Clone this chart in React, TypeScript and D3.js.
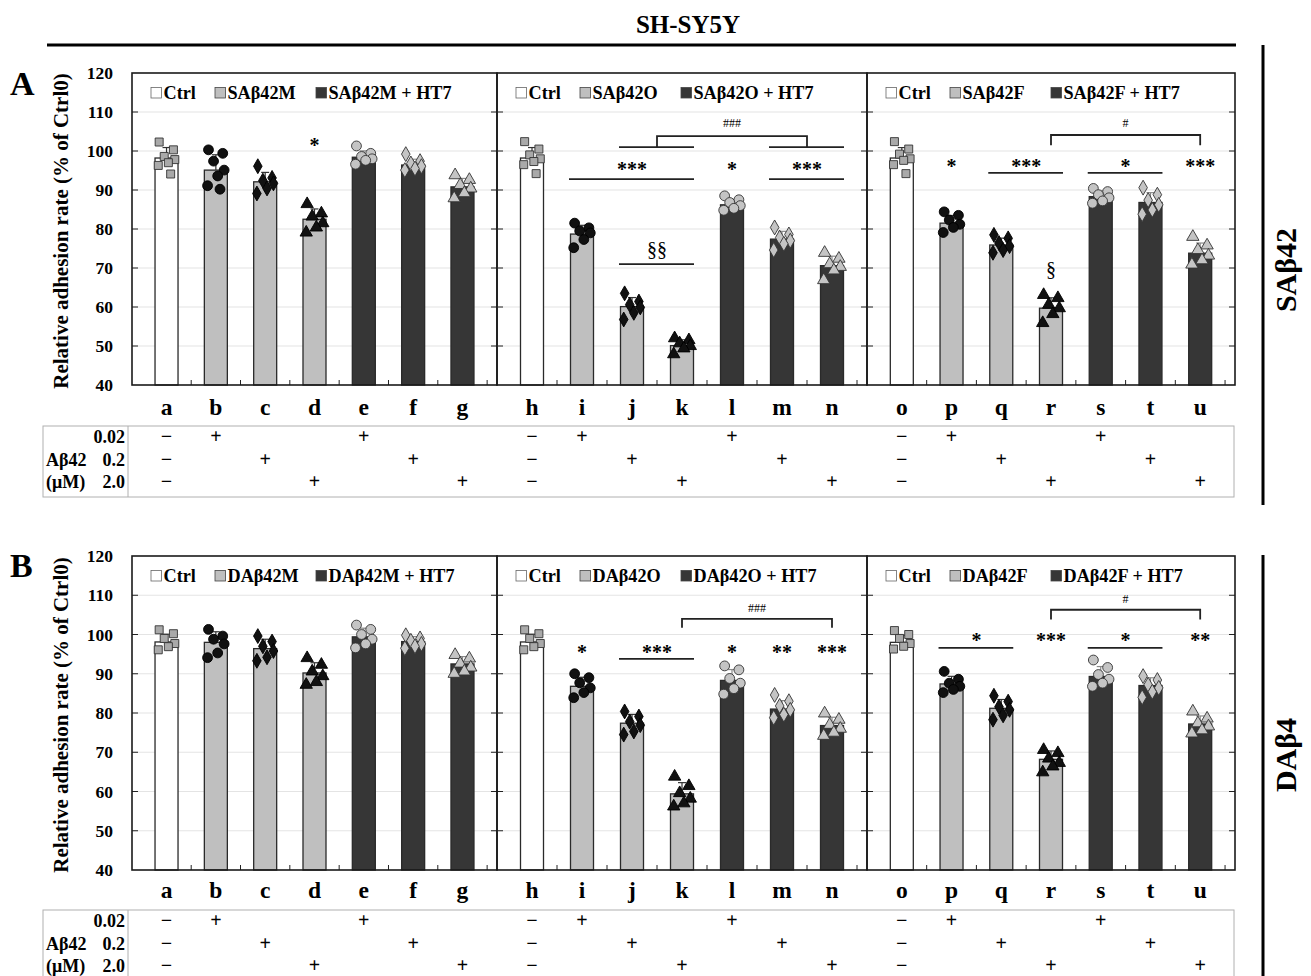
import React from "react";
import * as d3 from "d3";

const FONT = '"Liberation Serif", "Times New Roman", serif';

// categories, grouped by panel
const panelLetters = [
  ["a", "b", "c", "d", "e", "f", "g"],
  ["h", "i", "j", "k", "l", "m", "n"],
  ["o", "p", "q", "r", "s", "t", "u"],
];
const groupKind = ["ctrl", "drug", "drug", "drug", "ht7", "ht7", "ht7"];
const markerShape = ["square", "circle", "diamond", "triangle", "circle", "diamond", "triangle"];
const doseRow = [-1, 0, 1, 2, 0, 1, 2];
const doseLabels = ["0.02", "0.2", "2.0"];
const yTicks = [40, 50, 60, 70, 80, 90, 100, 110, 120];

// bar heights (mean, % of Ctrl0)
const meansSA = [
  [98.2, 95.1, 92.1, 82.5, 98.4, 96.4, 90.8],
  [98.2, 78.7, 60.1, 50.1, 86.2, 77.4, 70.6],
  [98.2, 81.5, 75.9, 59.7, 88.3, 86.8, 73.8],
];
const meansDA = [
  [98.1, 98.0, 96.4, 90.2, 99.4, 98.2, 92.5],
  [98.1, 86.8, 77.4, 59.4, 88.3, 81.0, 76.8],
  [98.0, 87.4, 81.2, 68.2, 89.3, 87.0, 77.2],
];

// individual measurements
const pointsSA = [
  [
    [102.3, 100.3, 98.6, 97.8, 97.0, 96.3, 94.1],
    [100.3, 99.4, 97.4, 95.1, 93.6, 91.1, 90.2],
    [96.1, 93.1, 92.4, 91.7, 90.4, 89.1],
    [86.4, 84.0, 83.2, 81.5, 80.4, 79.1],
    [101.3, 99.4, 98.6, 98.0, 97.6, 96.6],
    [99.2, 97.4, 96.8, 96.1, 95.5, 95.1],
    [93.8, 92.6, 91.3, 90.4, 89.2, 87.9],
  ],
  [
    [102.4, 100.5, 99.0, 98.0, 97.3, 96.5, 94.2],
    [81.5, 80.3, 79.5, 79.0, 77.3, 75.2],
    [63.5, 61.4, 60.6, 59.9, 58.5, 56.8],
    [52.0, 51.5, 50.7, 50.0, 49.4, 47.9],
    [88.5, 87.5, 86.8, 86.0, 85.3, 84.8],
    [80.4, 78.6, 77.8, 77.0, 76.2, 74.6],
    [73.9, 72.4, 71.0, 70.3, 69.4, 66.9],
  ],
  [
    [102.4, 100.5, 99.2, 98.0, 97.6, 96.5, 94.2],
    [84.4, 83.5, 82.3, 81.2, 80.4, 79.1],
    [78.5, 77.6, 76.4, 75.6, 74.6, 73.9],
    [63.1, 62.3, 60.6, 59.7, 58.2, 55.9],
    [90.4, 89.6, 88.8, 88.0, 87.2, 86.6],
    [90.6, 88.8, 87.4, 86.2, 84.9, 83.8],
    [78.0, 75.8, 74.6, 73.2, 72.0, 70.9],
  ],
];
const pointsDA = [
  [
    [101.2, 100.2, 99.0, 97.7, 96.9, 96.1],
    [101.3, 99.6, 98.8, 97.6, 95.3, 94.1],
    [99.6, 98.2, 97.0, 95.8, 94.2, 93.3],
    [94.0, 92.3, 90.6, 89.4, 87.9, 87.2],
    [102.4, 101.3, 100.0, 98.8, 97.6, 96.6],
    [99.8, 99.0, 98.4, 97.6, 97.0, 96.5],
    [94.8, 93.9, 92.6, 91.6, 90.6, 90.0],
  ],
  [
    [101.2, 100.2, 99.0, 97.7, 96.9, 96.1],
    [90.0, 89.0, 87.7, 86.4, 85.2, 83.9],
    [80.4, 79.1, 77.8, 76.9, 75.3, 74.5],
    [63.8, 61.4, 59.6, 58.2, 57.0, 56.2],
    [92.0, 91.0, 88.8, 87.6, 86.2, 84.8],
    [84.6, 83.0, 81.8, 80.8, 79.6, 78.8],
    [79.9, 78.3, 77.0, 76.0, 75.0, 74.2],
  ],
  [
    [101.0, 100.0, 99.0, 97.7, 97.0, 96.3],
    [90.6, 88.6, 87.6, 86.8, 86.0, 85.2],
    [84.4, 82.9, 81.6, 80.8, 79.4, 78.3],
    [70.6, 69.8, 68.4, 67.3, 66.4, 64.9],
    [93.5, 91.6, 89.8, 88.6, 87.6, 86.8],
    [89.4, 88.4, 87.2, 86.4, 85.4, 84.0],
    [80.4, 78.6, 77.4, 76.6, 75.6, 74.8],
  ],
];

const legendSA = [
  ["Ctrl", "SAβ42M", "SAβ42M + HT7"],
  ["Ctrl", "SAβ42O", "SAβ42O + HT7"],
  ["Ctrl", "SAβ42F", "SAβ42F + HT7"],
];
const legendDA = [
  ["Ctrl", "DAβ42M", "DAβ42M + HT7"],
  ["Ctrl", "DAβ42O", "DAβ42O + HT7"],
  ["Ctrl", "DAβ42F", "DAβ42F + HT7"],
];

// significance marks: v is in data units
type Ann =
  | { t: "text"; at: string[]; v: number; s: string }
  | { t: "line"; a: string; b: string; v: number }
  | { t: "bracket"; a: string[]; b: string[]; v: number; low: number };

const annSA: Ann[][] = [
  [{ t: "text", at: ["d"], v: 102.3, s: "*" }],
  [
    { t: "text", at: ["l"], v: 107.2, s: "###" },
    { t: "bracket", a: ["j", "k"], b: ["m", "n"], v: 103.8, low: 101.0 },
    { t: "line", a: "j", b: "k", v: 101.0 },
    { t: "line", a: "m", b: "n", v: 101.0 },
    { t: "text", at: ["i", "k"], v: 95.9, s: "***" },
    { t: "line", a: "i", b: "k", v: 92.8 },
    { t: "text", at: ["l"], v: 95.9, s: "*" },
    { t: "text", at: ["m", "n"], v: 95.9, s: "***" },
    { t: "line", a: "m", b: "n", v: 92.8 },
    { t: "text", at: ["j", "k"], v: 74.6, s: "§§" },
    { t: "line", a: "j", b: "k", v: 71.0 },
  ],
  [
    { t: "text", at: ["r", "u"], v: 107.2, s: "#" },
    { t: "bracket", a: ["r"], b: ["u"], v: 104.1, low: 101.5 },
    { t: "text", at: ["p"], v: 96.9, s: "*" },
    { t: "text", at: ["q", "r"], v: 96.9, s: "***" },
    { t: "line", a: "q", b: "r", v: 94.4 },
    { t: "text", at: ["s", "t"], v: 96.9, s: "*" },
    { t: "line", a: "s", b: "t", v: 94.4 },
    { t: "text", at: ["u"], v: 96.9, s: "***" },
    { t: "text", at: ["r"], v: 69.5, s: "§" },
  ],
];
const annDA: Ann[][] = [
  [],
  [
    { t: "text", at: ["k", "n"], v: 106.8, s: "###" },
    { t: "bracket", a: ["k"], b: ["n"], v: 104.0, low: 101.7 },
    { t: "text", at: ["i"], v: 96.1, s: "*" },
    { t: "text", at: ["j", "k"], v: 96.1, s: "***" },
    { t: "line", a: "j", b: "k", v: 93.8 },
    { t: "text", at: ["l"], v: 96.1, s: "*" },
    { t: "text", at: ["m"], v: 96.1, s: "**" },
    { t: "text", at: ["n"], v: 96.1, s: "***" },
  ],
  [
    { t: "text", at: ["r", "u"], v: 109.1, s: "#" },
    { t: "bracket", a: ["r"], b: ["u"], v: 106.3, low: 103.8 },
    { t: "text", at: ["p", "q"], v: 99.2, s: "*" },
    { t: "line", a: "p", b: "q", v: 96.6 },
    { t: "text", at: ["r"], v: 99.2, s: "***" },
    { t: "text", at: ["s", "t"], v: 99.2, s: "*" },
    { t: "line", a: "s", b: "t", v: 96.6 },
    { t: "text", at: ["u"], v: 99.2, s: "**" },
  ],
];

const panelEdges = [132, 497, 867, 1235];
const barW = 23;
const jitter = [-0.32, 0.3, -0.1, 0.36, 0.08, -0.36, 0.18];
const barFill: Record<string, string> = { ctrl: "#ffffff", drug: "#bfbfbf", ht7: "#363636" };
const symbolType: Record<string, d3.SymbolType> = {
  square: d3.symbolSquare,
  circle: d3.symbolCircle,
  diamond: d3.symbolDiamond,
  triangle: d3.symbolTriangle,
};
const symbolSize: Record<string, number> = { square: 64, circle: 76, diamond: 64, triangle: 66 };

function textStyle(s: string) {
  if (s.startsWith("#")) return { size: 12, weight: "normal", dy: 4 };
  if (s.startsWith("§")) return { size: 20, weight: "normal", dy: 6 };
  return { size: 20, weight: "bold", dy: 9.5 };
}

function Section(props: {
  label: string;
  top: number;
  bottom: number;
  letterY: number;
  tableTop: number;
  labelY: number;
  means: number[][];
  points: number[][][];
  legends: string[][];
  anns: Ann[][];
  side: string;
  sideY: number;
  sideLine: [number, number];
}) {
  const { top, bottom } = props;
  const y = d3.scaleLinear().domain([40, 120]).range([bottom, top]);
  const rowY = (r: number) => props.tableTop + 17 + r * 22.5;

  return (
    <g>
      <text x={10} y={props.labelY} fontSize={34} fontWeight="bold">{props.label}</text>
      {/* y axis */}
      {yTicks.map((t) => (
        <text key={t} x={113} y={y(t) + 6} textAnchor="end" fontSize={17.5} fontWeight="bold">{t}</text>
      ))}
      <text
        transform={`translate(68,${(top + bottom) / 2 + 2}) rotate(-90)`}
        textAnchor="middle"
        fontSize={21}
        fontWeight="bold"
      >
        Relative adhesion rate (% of Ctrl0)
      </text>

      {panelLetters.map((letters, p) => {
        const x0 = panelEdges[p];
        const x1 = panelEdges[p + 1];
        const x = d3.scalePoint<string>().domain(letters).range([x0, x1]).padding(0.7);
        const step = x.step();
        const cx = (ks: string[]) => d3.mean(ks, (k) => x(k)!)!;
        return (
          <g key={p}>
            {/* gridlines */}
            {yTicks.slice(1, -1).map((t) => (
              <line key={t} x1={x0} x2={x1} y1={y(t)} y2={y(t)} stroke="#e4e4e4" strokeWidth={1.2} />
            ))}
            {/* y ticks inside */}
            {yTicks.slice(1, -1).map((t) => (
              <g key={"t" + t} stroke="#222" strokeWidth={1}>
                <line x1={x0} x2={x0 + 6} y1={y(t)} y2={y(t)} />
                <line x1={x1 - 6} x2={x1} y1={y(t)} y2={y(t)} />
              </g>
            ))}
            {/* bars */}
            {letters.map((k, i) => {
              const m = props.means[p][i];
              return (
                <rect
                  key={k}
                  x={x(k)! - barW / 2}
                  y={y(m)}
                  width={barW}
                  height={y(40) - y(m)}
                  fill={barFill[groupKind[i]]}
                  stroke="#2a2a2a"
                  strokeWidth={1.3}
                />
              );
            })}
            {/* error bars */}
            {letters.map((k, i) => {
              const m = props.means[p][i];
              const sd = d3.deviation(props.points[p][i]) ?? 0;
              const c = groupKind[i] === "ht7" ? "#888" : "#333";
              return (
                <g key={"e" + k} stroke={c} strokeWidth={1.2}>
                  <line x1={x(k)!} x2={x(k)!} y1={y(m)} y2={y(m + sd)} />
                  <line x1={x(k)! - 4} x2={x(k)! + 4} y1={y(m + sd)} y2={y(m + sd)} />
                </g>
              );
            })}
            {/* points */}
            {letters.map((k, i) => {
              const kind = groupKind[i];
              const fill = kind === "drug" ? "#111" : kind === "ctrl" ? "#a9a9a9" : "#c4c4c4";
              const stroke = kind === "drug" ? "#000" : "#333";
              const path = d3.symbol(symbolType[markerShape[i]], symbolSize[markerShape[i]])()!;
              return (
                <g key={"p" + k}>
                  {props.points[p][i].map((v, j) => (
                    <path
                      key={j}
                      d={path}
                      transform={`translate(${x(k)! + jitter[j % jitter.length] * barW},${y(v)})`}
                      fill={fill}
                      stroke={stroke}
                      strokeWidth={0.9}
                    />
                  ))}
                </g>
              );
            })}
            {/* bottom category ticks */}
            {letters.map((k) => (
              <line key={"bt" + k} x1={x(k)! + step / 2} x2={x(k)! + step / 2} y1={y(40)} y2={y(40) - 5} stroke="#222" strokeWidth={1} />
            ))}
            {/* frame */}
            <rect x={x0} y={top} width={x1 - x0} height={bottom - top} fill="none" stroke="#1a1a1a" strokeWidth={1.6} />
            {/* legend */}
            {props.legends[p].map((name, i) => {
              const lx = x0 + [19, 83, 184][i];
              const ly = top + 26;
              const kind = ["ctrl", "drug", "ht7"][i];
              return (
                <g key={"l" + i}>
                  <rect x={lx} y={ly - 11.5} width={10.5} height={10.5} fill={barFill[kind]} stroke={kind === "ctrl" ? "#666" : "#444"} strokeWidth={0.8} />
                  <text x={lx + 12.5} y={ly} fontSize={18.2} fontWeight="bold">{name}</text>
                </g>
              );
            })}
            {/* significance marks */}
            {props.anns[p].map((a, i) => {
              if (a.t === "text") {
                const st = textStyle(a.s);
                return (
                  <text key={"a" + i} x={cx(a.at)} y={y(a.v) + st.dy} textAnchor="middle" fontSize={st.size} fontWeight={st.weight}>
                    {a.s}
                  </text>
                );
              }
              if (a.t === "line") {
                return (
                  <line key={"a" + i} x1={x(a.a)! - 13} x2={x(a.b)! + 12} y1={y(a.v)} y2={y(a.v)} stroke="#222" strokeWidth={1.8} />
                );
              }
              const xa = cx(a.a);
              const xb = cx(a.b);
              return (
                <path
                  key={"a" + i}
                  d={`M${xa},${y(a.low)}V${y(a.v)}H${xb}V${y(a.low)}`}
                  fill="none"
                  stroke="#222"
                  strokeWidth={1.8}
                />
              );
            })}
            {/* category letters */}
            {letters.map((k) => (
              <text key={"c" + k} x={x(k)!} y={props.letterY} textAnchor="middle" fontSize={23.5} fontWeight="bold">{k}</text>
            ))}
            {/* dose table marks */}
            {letters.map((k, i) =>
              doseLabels.map((_, r) => {
                const mark = doseRow[i] === -1 ? "−" : doseRow[i] === r ? "+" : "";
                return mark ? (
                  <text key={"d" + k + r} x={x(k)!} y={rowY(r)} textAnchor="middle" fontSize={20} fontWeight="bold">
                    {mark}
                  </text>
                ) : null;
              })
            )}
          </g>
        );
      })}

      {/* dose table frame and labels */}
      <rect x={43} y={props.tableTop} width={1191} height={71} fill="none" stroke="#b0b0b0" strokeWidth={1} />
      <line x1={128} x2={128} y1={props.tableTop} y2={props.tableTop + 71} stroke="#b0b0b0" strokeWidth={1} />
      {doseLabels.map((d, r) => (
        <text key={d} x={125} y={rowY(r)} textAnchor="end" fontSize={18} fontWeight="bold">{d}</text>
      ))}
      <text x={46} y={rowY(1)} fontSize={18} fontWeight="bold">Aβ42</text>
      <text x={46} y={rowY(2)} fontSize={18} fontWeight="bold">(μM)</text>

      {/* side label */}
      <line x1={1263} x2={1263} y1={props.sideLine[0]} y2={props.sideLine[1]} stroke="#000" strokeWidth={3} />
      <text transform={`translate(1296,${props.sideY}) rotate(-90)`} textAnchor="middle" fontSize={30} fontWeight="bold">
        {props.side}
      </text>
    </g>
  );
}

export default function App() {
  return (
    <svg
      width={1311}
      height={976}
      style={{ position: "absolute", left: 0, top: 0, background: "#fff" }}
      fontFamily={FONT}
    >
      <text x={688} y={33} textAnchor="middle" fontSize={25} fontWeight="bold">SH-SY5Y</text>
      <line x1={47} x2={1236} y1={45} y2={45} stroke="#000" strokeWidth={3} />
      <Section
        label="A"
        top={73}
        bottom={385}
        letterY={415}
        tableTop={426}
        labelY={95}
        means={meansSA}
        points={pointsSA}
        legends={legendSA}
        anns={annSA}
        side="SAβ42"
        sideY={270}
        sideLine={[45, 505]}
      />
      <Section
        label="B"
        top={556}
        bottom={870}
        letterY={898}
        tableTop={910}
        labelY={577}
        means={meansDA}
        points={pointsDA}
        legends={legendDA}
        anns={annDA}
        side="DAβ4"
        sideY={755}
        sideLine={[555, 976]}
      />
    </svg>
  );
}
